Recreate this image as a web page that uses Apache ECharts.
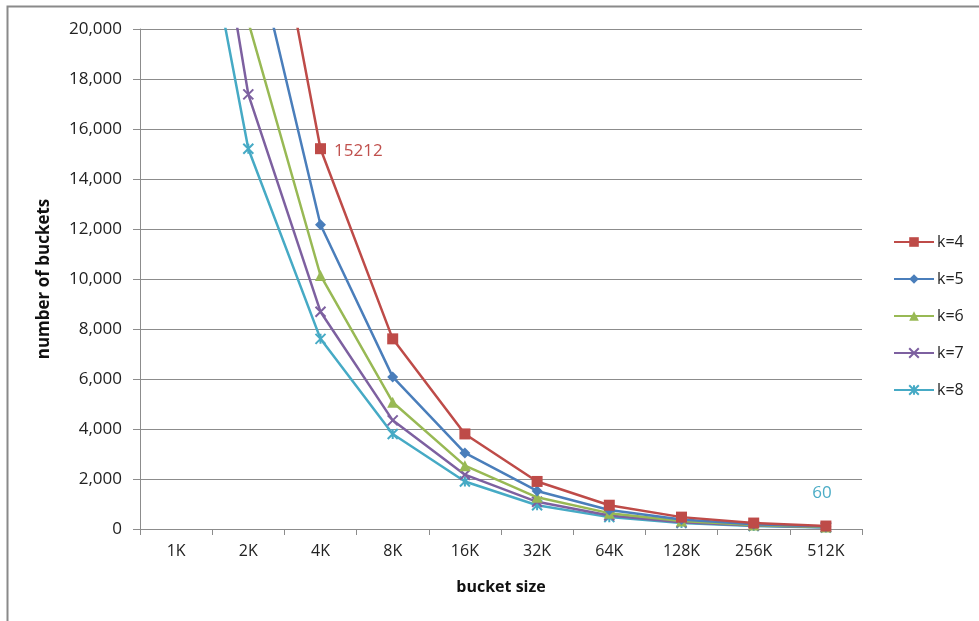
<!DOCTYPE html>
<html>
<head>
<meta charset="utf-8">
<script src="https://cdn.jsdelivr.net/npm/echarts@6/dist/echarts.min.js"></script>
<style>
  html, body { margin: 0; padding: 0; background: #fff; }
  #chart { width: 979px; height: 621px; }
</style>
</head>
<body>
<div id="chart"></div>
<script>
// Bucket sizes on the x axis
const bucketSizes = ['1K', '2K', '4K', '8K', '16K', '32K', '64K', '128K', '256K', '512K'];

// Number of buckets per bucket size, one list per k
const k4 = [60848, 30424, 15212, 7606, 3803, 1902, 951, 475, 238, 119];
const k5 = [48680, 24340, 12170, 6085, 3042, 1521, 761, 380, 190, 95];
const k6 = [40565, 20283, 10141, 5071, 2535, 1268, 634, 317, 158, 79];
const k7 = [34770, 17385, 8692, 4346, 2173, 1087, 543, 272, 136, 68];
const k8 = [30424, 15212, 7606, 3803, 1902, 951, 475, 238, 119, 60];

const seriesNames = ['k=4', 'k=5', 'k=6', 'k=7', 'k=8'];
const seriesValues = [k4, k5, k6, k7, k8];

// Points whose value is printed next to the marker: [series index, category index]
const labelledPoints = [[0, 2], [4, 9]];

const colors = ['#BE4B48', '#4A7EBB', '#98B954', '#7D60A0', '#46AAC5'];
const labelColors = ['#C0504D', '#4A7EBB', '#98B954', '#7D60A0', '#4BACC6'];
const symbols = [
  'rect',
  'diamond',
  'triangle',
  'path://M0,0L10,10M10,0L0,10',
  'path://M0,0L10,10M10,0L0,10M5,0L5,10'
];
const symbolSizes = [11, 11, 11, 10, 10];
const labelPlacement = [
  { position: 'right', distance: 8, offset: [0, 2] },
  null, null, null,
  { position: 'top', distance: 20, offset: [-4, 0] }
];

const font = '"Open Sans", Lato, "Noto Sans", sans-serif';

const series = seriesValues.map((vals, si) => ({
  name: seriesNames[si],
  type: 'line',
  data: vals.map((v, ci) => {
    const hit = labelledPoints.some(p => p[0] === si && p[1] === ci);
    if (!hit) return v;
    const pl = labelPlacement[si];
    return {
      value: v,
      label: {
        show: true,
        position: pl.position,
        distance: pl.distance,
        offset: pl.offset || [0, 0],
        color: labelColors[si],
        fontSize: 17,
        fontFamily: font,
        formatter: '{c}'
      }
    };
  }),
  symbol: symbols[si],
  symbolSize: symbolSizes[si],
  showAllSymbol: true,
  clip: true,
  lineStyle: { color: colors[si], width: 2.5 },
  itemStyle: { color: colors[si], borderColor: colors[si], borderWidth: si >= 3 ? 2 : 0 },
  emphasis: { disabled: true },
  z: 10 - si
}));

const chart = echarts.init(document.getElementById('chart'), null, { renderer: 'canvas' });
chart.setOption({
  animation: false,
  backgroundColor: '#ffffff',
  color: colors,
  graphic: [{
    type: 'rect',
    shape: { x: 7.5, y: 6.5, width: 1000, height: 700 },
    style: { fill: 'none', stroke: '#8a8a8a', lineWidth: 2 },
    silent: true
  }],
  grid: { left: 140, right: 117, top: 29, bottom: 92, containLabel: false },
  legend: {
    orient: 'vertical',
    left: 893,
    top: 234,
    padding: 0,
    itemWidth: 40,
    itemHeight: 12,
    itemGap: 21,
    textStyle: { fontFamily: font, fontSize: 16, lineHeight: 16, color: '#222', padding: [0, 0, 0, -2] },
    data: seriesNames
  },
  xAxis: {
    type: 'category',
    data: bucketSizes,
    boundaryGap: true,
    name: 'bucket size',
    nameLocation: 'middle',
    nameGap: 50,
    nameTextStyle: { fontFamily: font, fontSize: 16, fontWeight: 'bold', color: '#111' },
    axisLine: { lineStyle: { color: '#8c8c8c', width: 1 } },
    axisTick: { show: true, alignWithLabel: false, length: 6, lineStyle: { color: '#8c8c8c' } },
    axisLabel: { fontFamily: font, fontSize: 16, color: '#222', margin: 14 },
    splitLine: { show: false }
  },
  yAxis: {
    type: 'value',
    min: 0,
    max: 20000,
    interval: 2000,
    name: 'number of buckets',
    nameLocation: 'middle',
    nameGap: 87,
    nameTextStyle: { fontFamily: font, fontSize: 17, fontWeight: 'bold', color: '#111' },
    axisLine: { show: true, lineStyle: { color: '#8c8c8c', width: 1 } },
    axisTick: { show: true, length: 7, lineStyle: { color: '#8c8c8c' } },
    axisLabel: {
      fontFamily: font, fontSize: 17, color: '#222', margin: 18,
      formatter: v => v.toLocaleString('en-US')
    },
    splitLine: { show: true, lineStyle: { color: '#8c8c8c', width: 1 } }
  },
  series: series
});
</script>
</body>
</html>
